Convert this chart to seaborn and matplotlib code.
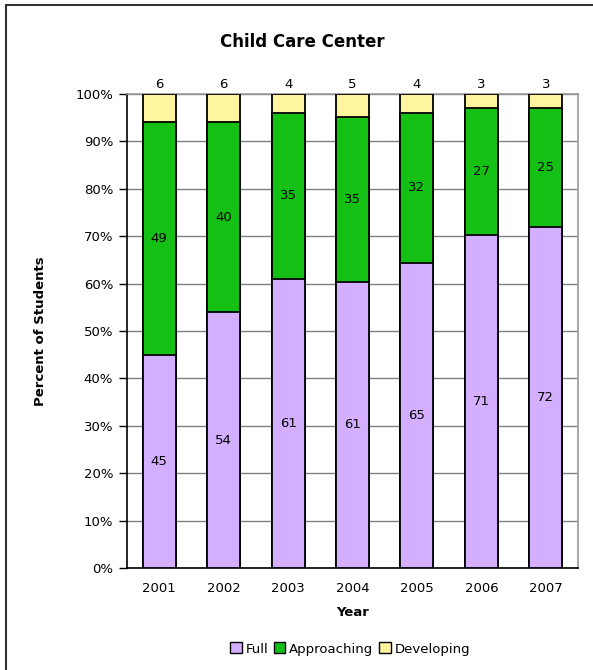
import numpy as np
import pandas as pd
import matplotlib
matplotlib.use("Agg")
import matplotlib.pyplot as plt
import seaborn as sns
from matplotlib.patches import Patch
from matplotlib.lines import Line2D

sns.set_style("white")
plt.rcParams['font.family'] = ['DejaVu Sans']
plt.rcParams['text.color'] = 'black'
plt.rcParams['axes.labelcolor'] = 'black'
plt.rcParams['xtick.color'] = 'black'
plt.rcParams['ytick.color'] = 'black'

# ==========================================
# 数据
# ==========================================
years = ['2001', '2002', '2003', '2004', '2005', '2006', '2007']
full = [45, 54, 61, 61, 65, 71, 72]
approaching = [49, 40, 35, 35, 32, 27, 25]
developing = [6, 6, 4, 5, 4, 3, 3]

colors = {'Full': '#D4AFFF', 'Approaching': '#14C014', 'Developing': '#FFF59F'}

df = pd.DataFrame({'Year': years, 'Full': full,
                   'Approaching': approaching, 'Developing': developing})
total = df[['Full', 'Approaching', 'Developing']].sum(axis=1)
df['p_full'] = df['Full'] / total * 100
df['p_appr'] = df['Approaching'] / total * 100
df['p_dev'] = df['Developing'] / total * 100
df['c_full'] = df['p_full']
df['c_appr'] = df['p_full'] + df['p_appr']
df['c_dev'] = df['c_appr'] + df['p_dev']

# ==========================================
# 画图
# ==========================================
fig = plt.figure(figsize=(5.93, 6.70), dpi=100)
ax = fig.add_axes([127 / 593, 1 - 568 / 670, 451 / 593, 474 / 670])

# 从上往下画累计高度，低层覆盖高层
for col, name in [('c_dev', 'Developing'), ('c_appr', 'Approaching'), ('c_full', 'Full')]:
    sns.barplot(data=df, x='Year', y=col, color=colors[name], saturation=1,
                width=0.51, edgecolor='black', linewidth=1.3, ax=ax, zorder=3)

# 数据标签
for i, row in df.iterrows():
    ax.text(i, row['p_full'] / 2, str(row['Full']), ha='center', va='center', fontsize=9.5, zorder=5)
    ax.text(i, row['p_full'] + row['p_appr'] / 2, str(row['Approaching']),
            ha='center', va='center', fontsize=9.5, zorder=5)
    ax.text(i, 100.7, str(row['Developing']), ha='center', va='bottom', fontsize=9.5, zorder=5)

ax.set_ylim(0, 100)
ax.set_xlim(-0.5, len(years) - 0.5)
ax.set_yticks(np.arange(0, 101, 10))
ax.set_yticklabels([f'{v}%' for v in range(0, 101, 10)], fontsize=9.5)
ax.yaxis.grid(True, color='#808080', linewidth=1, zorder=0)
ax.set_axisbelow(True)

ax.set_xticks(range(len(years)))
ax.set_xticklabels(years, fontsize=9.5)
ax.set_xticks(np.arange(-0.5, len(years)), minor=True)
ax.tick_params(axis='x', which='major', length=0, pad=10)
ax.tick_params(axis='x', which='minor', length=5, width=1, color='black', direction='out')
ax.tick_params(axis='y', length=6, width=1, color='black', direction='out', left=True, pad=4)

for s in ['top', 'right']:
    ax.spines[s].set_color('#999999')
    ax.spines[s].set_linewidth(1.2)
for s in ['left', 'bottom']:
    ax.spines[s].set_color('black')
    ax.spines[s].set_linewidth(1.2)

ax.set_xlabel('Year', fontsize=9.5, fontweight='bold', labelpad=8)
ax.set_ylabel('Percent of Students', fontsize=9.5, fontweight='bold', labelpad=20)
fig.text(302 / 593, 1 - 42 / 670, 'Child Care Center', ha='center', va='center',
         fontsize=12, fontweight='bold')

handles = [Patch(facecolor=colors[n], edgecolor='black', linewidth=1, label=n)
           for n in ['Full', 'Approaching', 'Developing']]
fig.legend(handles=handles, loc='center', bbox_to_anchor=(350 / 593, 1 - 649 / 670),
           ncol=3, frameon=False, fontsize=9.5, handlelength=0.9, handleheight=0.9,
           handletextpad=0.3, columnspacing=0.4)

# 外框（只在上边和左边可见）
fig.add_artist(Line2D([6 / 593, 1.0], [1 - 4.5 / 670, 1 - 4.5 / 670], color='#333333', linewidth=1.5))
fig.add_artist(Line2D([6 / 593, 6 / 593], [0.0, 1 - 4.5 / 670], color='#333333', linewidth=1.5))

fig.savefig('out.png', dpi=100)
